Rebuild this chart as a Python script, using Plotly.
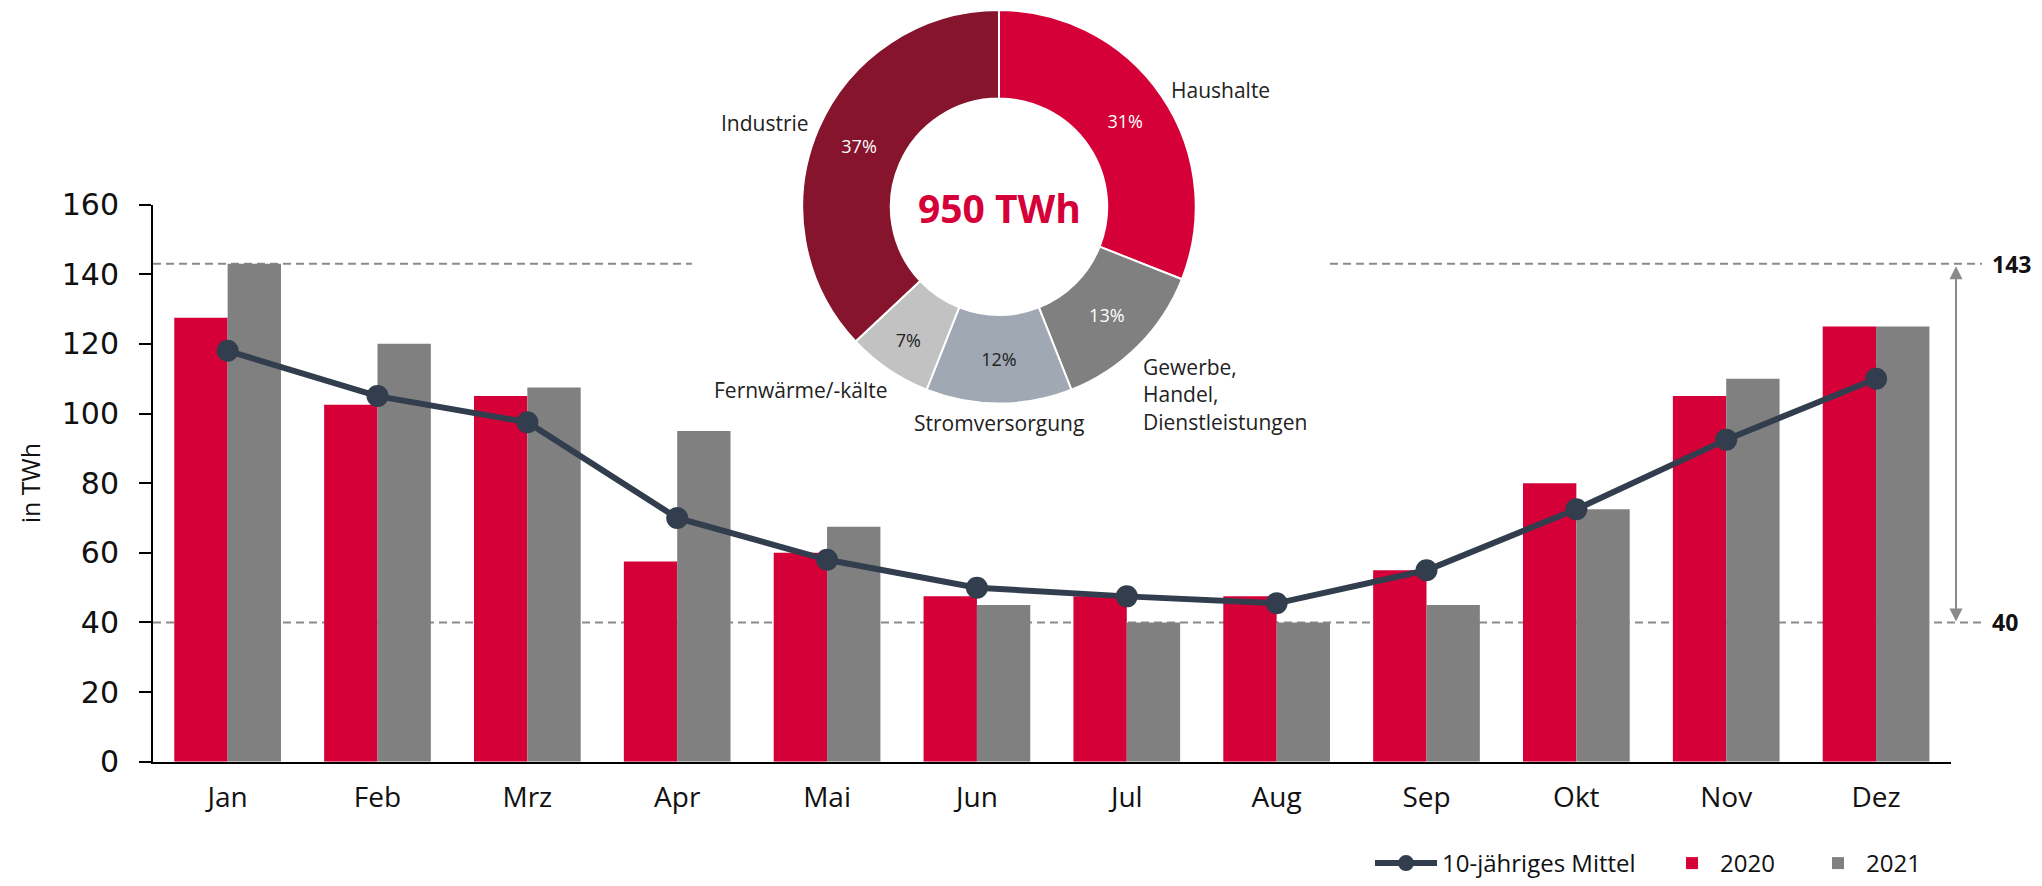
import plotly.graph_objects as go

# ---------------- data ----------------
months = ["Jan", "Feb", "Mrz", "Apr", "Mai", "Jun", "Jul", "Aug", "Sep", "Okt", "Nov", "Dez"]
values_2020 = [127.5, 102.5, 105, 57.5, 60, 47.5, 47.5, 47.5, 55, 80, 105, 125]
values_2021 = [143, 120, 107.5, 95, 67.5, 45, 40, 40, 45, 72.5, 110, 125]
mittel_10j = [118, 105, 97.5, 70, 58, 50, 47.5, 45.5, 55, 72.5, 92.5, 110]
y_ticks = [0, 20, 40, 60, 80, 100, 120, 140, 160]
y_range = [0, 160]
ref_max = 143
ref_min = 40

sectors = ["Haushalte", "Gewerbe, Handel, Dienstleistungen", "Stromversorgung",
           "Fernwärme/-kälte", "Industrie"]
sector_share = [31, 13, 12, 7, 37]
total_label = "950 TWh"

# ---------------- style ----------------
PAGE_OFF = 8            # default body margin of the html page
W, H = 2042 - PAGE_OFF, 886 - PAGE_OFF
Y_SCALE = 0.991         # vertical scale seen in the rendered page
RED = "#D50037"
GRAY = "#808080"
LINE = "#323E4E"
sector_colors = [RED, "#808080", "#A0A8B4", "#C2C2C2", "#85142C"]
pct_colors = ["white", "white", "#222222", "#222222", "white"]

def px(x):
    """page x pixel -> paper fraction"""
    return (x - PAGE_OFF) / W

def py(y):
    """page y pixel (from top) -> paper fraction"""
    yc = (y - 1.0) / Y_SCALE
    return 1 - (yc - PAGE_OFF) / H

fig = go.Figure()

fig.add_trace(go.Bar(x=months, y=values_2020, name="2020", marker_color=RED,
                     marker_line_width=0, legend="legend2"))
fig.add_trace(go.Bar(x=months, y=values_2021, name="2021", marker_color=GRAY,
                     marker_line_width=0, legend="legend3"))
fig.add_trace(go.Scatter(x=months, y=mittel_10j, name="10-jähriges Mittel",
                         mode="lines+markers", yaxis="y2",
                         line=dict(color=LINE, width=6),
                         marker=dict(color=LINE, size=22),
                         legend="legend"))

fig.add_trace(go.Pie(
    labels=sectors, values=sector_share, sort=False, direction="clockwise",
    rotation=0, hole=0.55,
    marker=dict(colors=sector_colors, line=dict(color="white", width=2)),
    textinfo="percent", textposition="inside", insidetextorientation="horizontal",
    insidetextfont=dict(color=pct_colors, size=18, family="Open Sans"),
    domain=dict(x=[px(802), px(1196)], y=[py(405), py(11)]),
    showlegend=False,
))

# dashed reference lines
dash_style = dict(color="#8A8A8A", width=2, dash="8px,5px")
shapes = [
    dict(type="line", xref="paper", yref="y", x0=px(153), x1=px(692), y0=ref_max, y1=ref_max,
         line=dash_style, layer="below"),
    dict(type="line", xref="paper", yref="y", x0=px(1330), x1=px(1982), y0=ref_max, y1=ref_max,
         line=dash_style, layer="below"),
    dict(type="line", xref="paper", yref="y", x0=px(153), x1=px(1982), y0=ref_min, y1=ref_min,
         line=dash_style, layer="below"),
]

label_font = dict(family="Open Sans", size=21, color="#222222")
annotations = [
    # double arrow between min and max
    dict(xref="paper", yref="y", axref="pixel", ayref="y", x=px(1956), y=ref_min + 0.3,
         ax=0, ay=ref_max - 0.3,
         text="", showarrow=True, arrowhead=2, startarrowhead=2, arrowside="end+start",
         arrowsize=1.3, arrowwidth=2, arrowcolor="#8A8A8A"),
    dict(xref="paper", yref="y", x=px(1990), y=ref_max, text=f"<b>{ref_max}</b>", showarrow=False,
         xanchor="left", yanchor="middle", font=dict(family="Open Sans", size=23, color="#111111")),
    dict(xref="paper", yref="y", x=px(1990), y=ref_min, text=f"<b>{ref_min}</b>", showarrow=False,
         xanchor="left", yanchor="middle", font=dict(family="Open Sans", size=23, color="#111111")),
    # donut centre
    dict(xref="paper", yref="paper", x=px(999), y=py(209), text=f"<b>{total_label}</b>",
         showarrow=False, xanchor="center", yanchor="middle",
         font=dict(family="Open Sans", size=39, color=RED)),
    # sector names
    dict(xref="paper", yref="paper", x=px(1169), y=py(91), text=sectors[0], showarrow=False,
         xanchor="left", yanchor="middle", font=label_font),
    dict(xref="paper", yref="paper", x=px(1141), y=py(396), text="Gewerbe,<br>Handel,<br>Dienstleistungen",
         showarrow=False, xanchor="left", yanchor="middle", align="left", font=label_font),
    dict(xref="paper", yref="paper", x=px(999), y=py(424), text=sectors[2], showarrow=False,
         xanchor="center", yanchor="middle", font=label_font),
    dict(xref="paper", yref="paper", x=px(890), y=py(391), text=sectors[3], showarrow=False,
         xanchor="right", yanchor="middle", font=label_font),
    dict(xref="paper", yref="paper", x=px(811), y=py(124), text=sectors[4], showarrow=False,
         xanchor="right", yanchor="middle", font=label_font),
]

legend_font = dict(family="Open Sans", size=24, color="#111111")
legend_common = dict(orientation="h", y=py(866), yanchor="middle", xanchor="left",
                     font=legend_font, bgcolor="rgba(0,0,0,0)", borderwidth=0)

fig.update_layout(
    width=W, height=H,
    margin=dict(l=0, r=0, t=0, b=0),
    paper_bgcolor="white", plot_bgcolor="white",
    barmode="group", bargap=0.288, bargroupgap=0,
    font=dict(family="Open Sans", color="#111111"),
    showlegend=True,
    legend=dict(x=px(1370), itemwidth=62, **legend_common),
    legend2=dict(x=px(1664), itemwidth=46, **legend_common),
    legend3=dict(x=px(1810), itemwidth=46, **legend_common),
    xaxis=dict(domain=[px(152.7), px(1951)], automargin=False, showgrid=False,
               range=[-0.5, len(months) - 0.5],
               showline=True, linecolor="black", linewidth=2, ticks="",
               tickfont=dict(family="Open Sans", size=28, color="#111111"),
               ticklabelstandoff=10, fixedrange=True),
    yaxis=dict(domain=[py(763.7), py(205.7)], automargin=False, range=y_range,
               tickvals=y_ticks, showgrid=False, zeroline=False,
               showline=True, linecolor="black", linewidth=2,
               ticks="outside", ticklen=12, tickwidth=2, tickcolor="black",
               showticklabels=False, fixedrange=True),
    yaxis2=dict(overlaying="y", anchor="free", position=px(119), side="left",
                automargin=False, range=y_range, tickvals=y_ticks,
                showgrid=False, zeroline=False, showline=False, ticks="",
                tickfont=dict(family="DejaVu Sans", size=30, color="#111111"),
                title=dict(text="in TWh", standoff=12,
                           font=dict(family="Open Sans", size=25, color="#111111")),
                fixedrange=True),
    shapes=shapes,
    annotations=annotations,
)

fig.write_html("out.html", config={"displayModeBar": False})
